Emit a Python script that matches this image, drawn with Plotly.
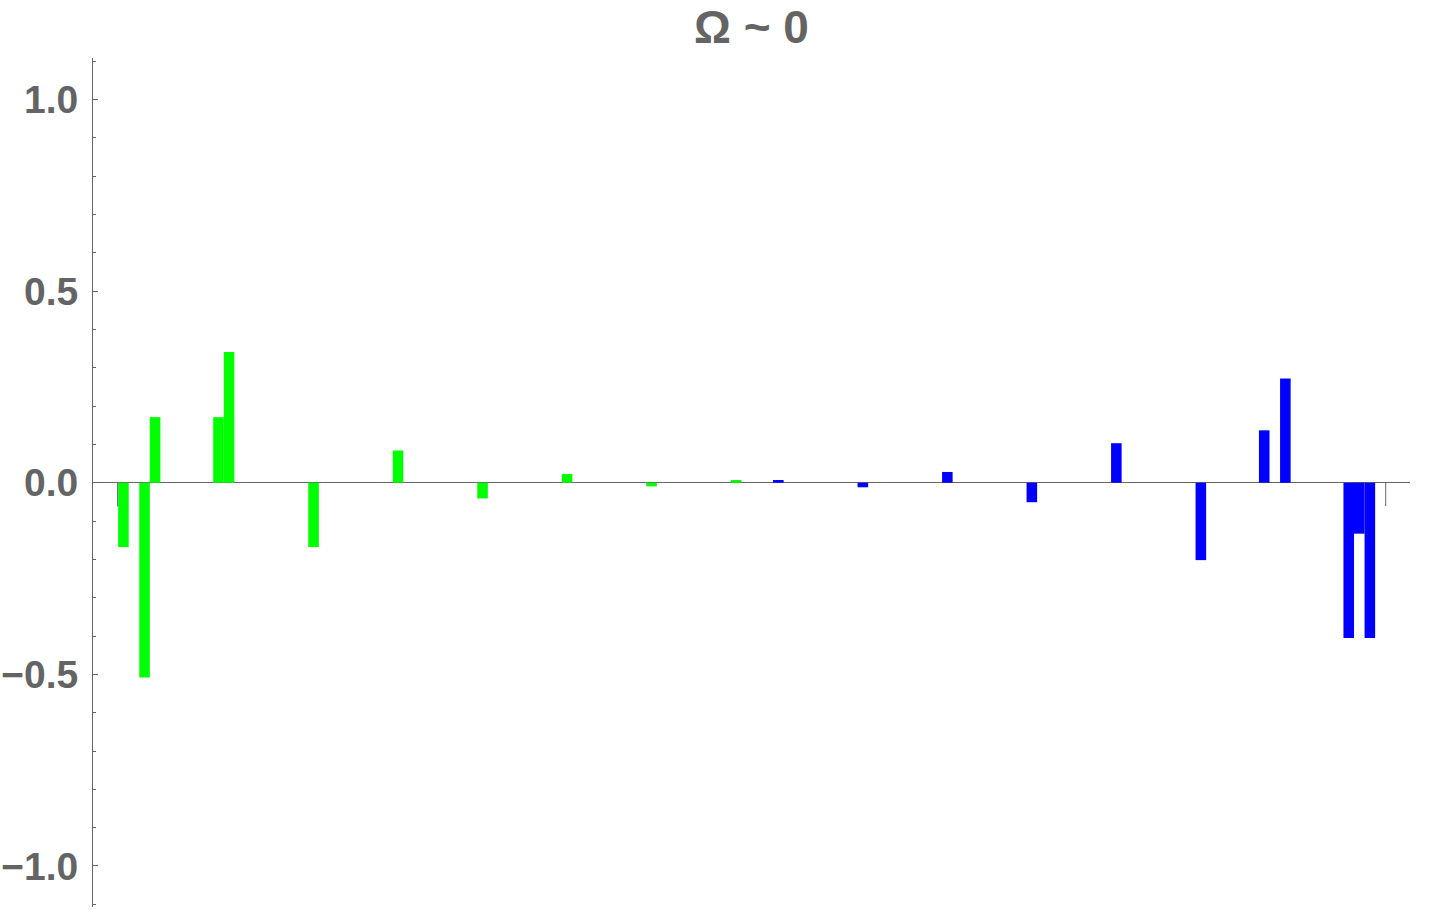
import plotly.graph_objects as go

# bar positions (in bar-width units) and heights
green_x = [3, 5, 6, 12, 13, 21, 29, 37, 45, 53, 61]
green_y = [-0.168, -0.508, 0.171, 0.171, 0.341, -0.168, 0.084, -0.041, 0.0225, -0.0096, 0.007]

blue_x = [65, 73, 81, 89, 97, 105, 111, 113, 119, 120, 121]
blue_y = [0.007, -0.012, 0.028, -0.051, 0.103, -0.202, 0.1366, 0.272, -0.405, -0.133, -0.405]

# the two thin grey stems at both ends
stem_x = [2.45, 122.5]
stem_y = [-0.062, -0.061]

y_ticks = [-1.0, -0.5, 0.0, 0.5, 1.0]
y_labels = ["\u22121.0", "\u22120.5", "0.0", "0.5", "1.0"]

AXIS_GREY = "#666666"
TEXT_GREY = "#646464"

W, H = 1440, 910

fig = go.Figure()

fig.add_trace(go.Bar(x=green_x, y=green_y, width=1, marker_color="#00ff00",
                     marker_line_width=0, name="green"))
fig.add_trace(go.Bar(x=blue_x, y=blue_y, width=1, marker_color="#0000ff",
                     marker_line_width=0, name="blue"))

sx, sy = [], []
for x, y in zip(stem_x, stem_y):
    sx += [x, x, None]
    sy += [0, y, None]
fig.add_trace(go.Scatter(x=sx, y=sy, mode="lines",
                         line=dict(color=AXIS_GREY, width=1), hoverinfo="skip"))

fig.update_layout(
    width=W,
    height=H,
    barmode="overlay",
    showlegend=False,
    plot_bgcolor="white",
    paper_bgcolor="white",
    margin=dict(l=93, r=30, t=58, b=3, autoexpand=False),
    title=dict(text="<b>\u03a9 ~ 0</b>", x=0.5, xref="paper", xanchor="center",
               y=1 - 27 / H, yref="container", yanchor="middle", automargin=False,
               font=dict(family="Liberation Sans", size=46, color=TEXT_GREY)),
    font=dict(family="Liberation Sans", color=TEXT_GREY),
)

fig.update_xaxes(range=[0.12, 124.8], showgrid=False, zeroline=False,
                 showline=False, showticklabels=False, ticks="",
                 automargin=False)

fig.update_yaxes(
    range=[-1.107, 1.108],
    automargin=False,
    showgrid=False,
    zeroline=True, zerolinecolor=AXIS_GREY, zerolinewidth=1,
    showline=True, linecolor=AXIS_GREY, linewidth=1,
    tickmode="array", tickvals=y_ticks, ticktext=y_labels,
    ticks="inside", ticklen=5, tickcolor=AXIS_GREY, tickwidth=1,
    ticklabelstandoff=6,
    tickfont=dict(family="Liberation Sans", size=39, color=TEXT_GREY, weight="bold"),
    minor=dict(dtick=0.1, tick0=0, ticks="inside", ticklen=3,
               tickcolor=AXIS_GREY, tickwidth=1, showgrid=False),
)

# drop the browser's default 8px body margin so the figure fills the window
fig.write_html("out.html", config={"displayModeBar": False},
               post_script="document.body.style.margin = '0';")
